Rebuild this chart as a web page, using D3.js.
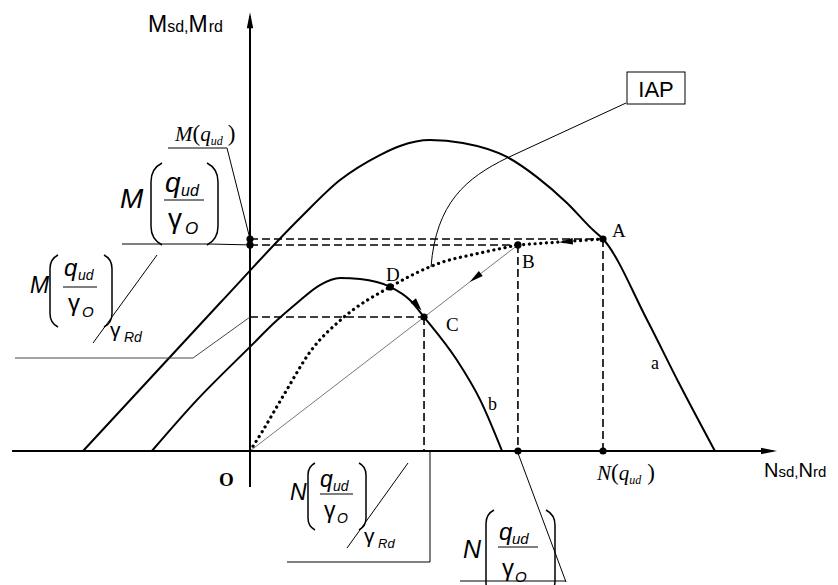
<!DOCTYPE html>
<html><head><meta charset="utf-8">
<script src="https://cdn.jsdelivr.net/npm/d3@7/dist/d3.min.js"></script>
<style>html,body{margin:0;padding:0;background:#fff;}svg{display:block;}</style>
</head><body>
<svg id="chart" width="838" height="585"></svg>
<script>
// ---------- data (N, M units; N(q_ud)=100, M(q_ud)=100) ----------
const curveA = [[-47.3,0],[-8.5,69.8],[14.2,109.9],[25.5,127.8],[36.8,139.6],[42.5,143.9],[51.0,146.7],[60.3,145.3],[72.8,138.7],[81.3,129.2],[89.8,117.0],[97.2,104.2],[100,100],[112.5,61.8],[121.8,31.1],[131.7,0]];
const curveB = [[-27.8,0],[-15.0,24.1],[0,49.1],[7.1,60.8],[13.3,69.8],[19.8,78.3],[25.5,81.6],[31.2,81.1],[39.7,77.4],[45.3,71.2],[49.3,63.2],[58.6,42.9],[65.2,24.1],[71.4,0]];
const iapCurve = [[0,0],[3.4,9.0],[9.9,27.4],[17.0,46.7],[26.3,62.7],[39.7,77.4],[53.8,88.7],[65.2,93.4],[75.9,97.2]];
const pointNames = ["A","B","C","D"];
const pointN = [100, 75.9, 49.3, 39.7];
const pointM = [100, 97.2, 63.2, 77.4];
const axisN = [-67.4, 149.3];
const axisM = [-17, 207];

const W = 838, H = 585;
const svg = d3.select("#chart");
const x = d3.scaleLinear().domain([0,100]).range([250,603]);
const y = d3.scaleLinear().domain([0,100]).range([451,239]);
const P = {}; pointNames.forEach((n,i)=>P[n]={N:pointN[i],M:pointM[i]});

const sans = "'Liberation Sans', Arial, sans-serif";
const serif = "'Liberation Serif', 'Times New Roman', serif";

function arrow(g, tx, ty, ang, L, w){
  const c=Math.cos(ang), s=Math.sin(ang);
  const bx=tx-L*c, by=ty-L*s;
  g.append("path").attr("d",`M${tx},${ty}L${bx-w*s},${by+w*c}L${bx+w*s},${by-w*c}Z`).attr("fill","#000");
}

// axes
svg.append("line").attr("x1",x(axisN[0])).attr("x2",x(axisN[1])-4).attr("y1",y(0)).attr("y2",y(0)).attr("stroke","#000").attr("stroke-width",2);
arrow(svg, x(axisN[1]), y(0), 0, 16, 3.2);
svg.append("line").attr("x1",x(0)).attr("x2",x(0)).attr("y1",y(axisM[0])).attr("y2",y(axisM[1])+4).attr("stroke","#000").attr("stroke-width",2);
arrow(svg, x(0), y(axisM[1]), -Math.PI/2, 16, 3.2);

// dashed guides
const dash = svg.append("g").attr("stroke","#000").attr("stroke-width",1.6).attr("stroke-dasharray","8,4").attr("fill","none");
["A","B","C"].forEach(k=>{
  dash.append("line").attr("x1",x(0)).attr("x2",x(P[k].N)).attr("y1",y(P[k].M)).attr("y2",y(P[k].M));
  dash.append("line").attr("x1",x(P[k].N)).attr("x2",x(P[k].N)).attr("y1",y(P[k].M)).attr("y2",y(0));
});

// thin ray O-B
svg.append("line").attr("x1",x(0)).attr("y1",y(0)).attr("x2",x(P.B.N)).attr("y2",y(P.B.M)).attr("stroke","#555").attr("stroke-width",0.8);

// curves a and b
const line = d3.line().x(d=>x(d[0])).y(d=>y(d[1])).curve(d3.curveMonotoneX);
svg.append("path").attr("d",line(curveA)).attr("fill","none").attr("stroke","#000").attr("stroke-width",2);
svg.append("path").attr("d",line(curveB)).attr("fill","none").attr("stroke","#000").attr("stroke-width",2);

// IAP dotted path
svg.append("path").attr("d",line(iapCurve)).attr("fill","none").attr("stroke","#000").attr("stroke-width",3.2).attr("stroke-linecap","round").attr("stroke-dasharray","0.1,5.6");
svg.append("path").attr("d",d3.line().x(d=>x(d[0])).y(d=>y(d[1]))([[P.B.N,P.B.M],[P.A.N,P.A.M]])).attr("fill","none").attr("stroke","#000").attr("stroke-width",3.2).attr("stroke-linecap","round").attr("stroke-dasharray","0.1,5.6");

// direction arrows
{
  const ang=Math.atan2(y(P.B.M)-y(P.A.M), x(P.B.N)-x(P.A.N));
  arrow(svg, x(87.5), y(98.5), ang, 14, 3.2);
  const angOB=Math.atan2(y(0)-y(P.B.M), x(0)-x(P.B.N));
  arrow(svg, x(P.B.N*0.82), y(P.B.M*0.82), angOB, 14, 3.2);
  arrow(svg, x(48.6), y(66.3), Math.atan2(y(63.2)-y(71.2), x(49.3)-x(45.3)), 13, 3.5);
}

// points
const dots = [[P.A.N,P.A.M],[P.B.N,P.B.M],[P.C.N,P.C.M],[P.D.N,P.D.M],[0,P.A.M],[0,P.B.M],[P.B.N,0],[P.A.N,0]];
svg.selectAll("circle.pt").data(dots).join("circle").attr("class","pt")
  .attr("cx",d=>x(d[0])).attr("cy",d=>y(d[1])).attr("r",3.6).attr("fill","#000");

// ---------- annotations ----------
const ann = svg.append("g");
function txt(s, tx, ty, size, opts={}){
  return ann.append("text").attr("x",tx).attr("y",ty).text(s)
    .attr("font-family",opts.family||sans).attr("font-size",size)
    .attr("font-style",opts.italic?"italic":"normal").attr("font-weight",opts.bold?"bold":"normal").attr("fill","#000");
}
function pl(pts, sw=1, col="#000"){
  ann.append("path").attr("d",d3.line()(pts)).attr("fill","none").attr("stroke",col).attr("stroke-width",sw);
}
function paren(x0, x1, top, bot, sw=1.5){
  const r = Math.abs(x1-x0)*1.7;
  ann.append("path").attr("d",`M${x1},${top}Q${x0},${top+r*0.3} ${x0},${top+r}L${x0},${bot-r}Q${x0},${bot-r*0.3} ${x1},${bot}`)
    .attr("fill","none").attr("stroke","#000").attr("stroke-width",sw);
}

// axis titles
{
  const t = ann.append("text").attr("x",148).attr("y",32).attr("font-family",sans).attr("fill","#000");
  t.append("tspan").attr("font-size",23).text("M");
  t.append("tspan").attr("font-size",16).text("sd,");
  t.append("tspan").attr("font-size",23).text("M");
  t.append("tspan").attr("font-size",16).attr("dx",1).text("rd");
  const n = ann.append("text").attr("x",764).attr("y",477).attr("font-family",sans).attr("fill","#000");
  n.append("tspan").attr("font-size",20).text("N");
  n.append("tspan").attr("font-size",15).text("sd,");
  n.append("tspan").attr("font-size",20).text("N");
  n.append("tspan").attr("font-size",15).text("rd");
}

// point labels
txt("A", 612, 237, 19, {family:serif});
txt("B", 522, 268, 19, {family:serif});
txt("C", 446, 331, 19, {family:serif});
txt("D", 386, 281, 19, {family:serif});
txt("a", 651, 369, 18, {family:serif});
txt("b", 488, 410, 18, {family:serif});
txt("O", 219, 486, 19, {family:serif, bold:true});

// M(q_ud)
{
  const t = ann.append("text").attr("x",175).attr("y",141).attr("font-family",serif).attr("font-style","italic").attr("fill","#000");
  t.append("tspan").attr("font-size",21).text("M");
  t.append("tspan").attr("font-size",23).attr("font-style","normal").text("(");
  t.append("tspan").attr("font-size",21).text("q");
  t.append("tspan").attr("font-size",12).attr("dy",4).text("ud");
  t.append("tspan").attr("font-size",23).attr("font-style","normal").attr("dy",-4).attr("dx",5).text(")");
  pl([[168,148],[227,148],[x(0),y(P.A.M)]], 1);
}
// N(q_ud)
{
  const t = ann.append("text").attr("x",597).attr("y",480).attr("font-family",serif).attr("font-style","italic").attr("fill","#000");
  t.append("tspan").attr("font-size",21).text("N");
  t.append("tspan").attr("font-size",23).attr("font-style","normal").text("(");
  t.append("tspan").attr("font-size",21).text("q");
  t.append("tspan").attr("font-size",12).attr("dy",4).text("ud");
  t.append("tspan").attr("font-size",23).attr("font-style","normal").attr("dy",-4).attr("dx",6).text(")");
}

// Big M(q_ud/γO)
txt("M", 120, 208, 28, {italic:true});
paren(151, 162, 163, 245);
paren(218, 207, 163, 245);
txt("q", 165, 192, 28, {italic:true});
txt("ud", 181, 196, 16, {italic:true});
pl([[164,200],[204,200]], 1.2);
txt("γ", 168, 228, 28);
txt("O", 185, 234, 17, {italic:true});
pl([[122,244],[210,244],[x(0),y(P.B.M)]], 1);

// Left M(q_ud/γO)/γRd
txt("M", 30, 293, 23, {italic:true});
paren(50, 58, 255, 327);
paren(112, 104, 255, 327);
txt("q", 64, 276, 24, {italic:true});
txt("ud", 78, 280, 14, {italic:true});
pl([[63,287],[97,287]], 1.1);
txt("γ", 68, 311, 24);
txt("O", 82, 317, 15, {italic:true});
pl([[93,343],[157,255]], 1);
txt("γ", 110, 337, 21);
txt("Rd", 124, 342, 14, {italic:true});
pl([[15,358],[193,358],[x(0),y(P.C.M)]], 0.9, "#333");

// Bottom N(q_ud/γO)/γRd
txt("N", 290, 500, 23, {italic:true});
paren(308, 315, 463, 530);
paren(366, 359, 463, 530);
txt("q", 320, 487, 23, {italic:true});
txt("ud", 333, 491, 14, {italic:true});
pl([[320,494],[353,494]], 1.1);
txt("γ", 324, 518, 23);
txt("O", 337, 523, 14, {italic:true});
pl([[347,548],[408,463]], 1);
txt("γ", 364, 543, 21);
txt("Rd", 378, 548, 13, {italic:true});
pl([[287,562],[430,562],[430,y(0)+1]], 1);

// Bottom N(q_ud/γO)
txt("N", 463, 558, 25, {italic:true});
paren(486, 494, 510, 596);
paren(555, 546, 510, 596);
txt("q", 499, 540, 24, {italic:true});
txt("ud", 512, 544, 15, {italic:true});
pl([[498,547],[538,547]], 1);
txt("γ", 502, 576, 24);
txt("O", 515, 582, 15, {italic:true});
pl([[460,581],[566,581]], 1);
pl([[566,582],[x(P.B.N),y(0)+2]], 1);

// IAP box and leader
ann.append("rect").attr("x",627).attr("y",72).attr("width",58).attr("height",32).attr("fill","#fff").attr("stroke","#000").attr("stroke-width",1);
txt("IAP", 656, 97, 22).attr("text-anchor","middle");
ann.append("path").attr("d","M626,103L507,158C466,178 436,203 431,267").attr("fill","none").attr("stroke","#000").attr("stroke-width",1);
</script>
</body></html>
